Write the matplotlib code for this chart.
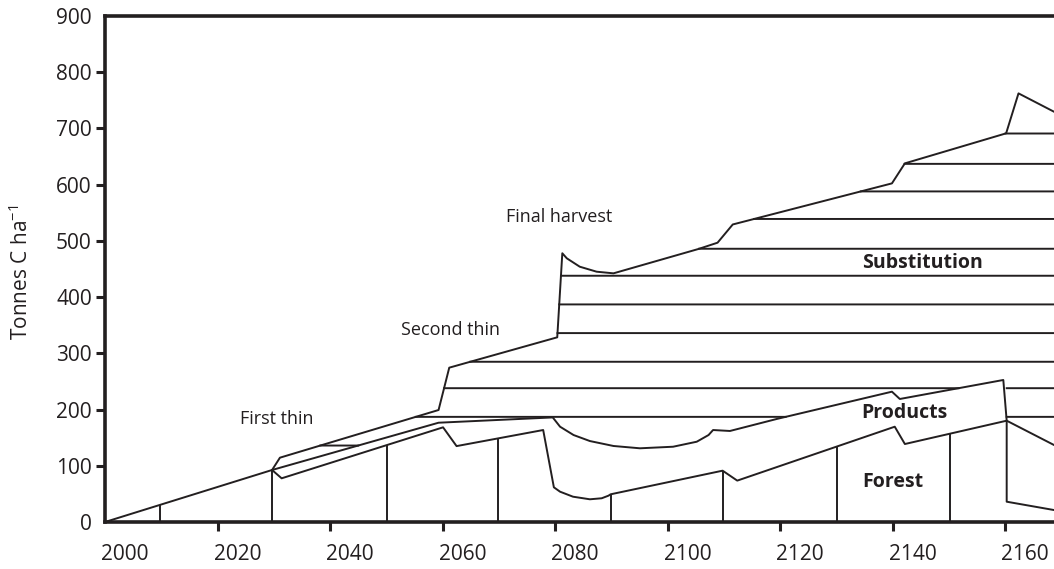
import numpy as np
import matplotlib
matplotlib.use('Agg')
import matplotlib.pyplot as plt
from matplotlib.transforms import ScaledTranslation

plt.rcParams['font.family'] = ['Open Sans', 'DejaVu Sans']
plt.rcParams['mathtext.fontset'] = 'custom'
plt.rcParams['mathtext.rm'] = 'Open Sans'

# forest carbon (lowest line)
forest_years = [2000, 2029.7, 2031.4, 2060.1, 2062.5, 2077.9, 2079.8, 2080.9, 2083.2,
                2086.2, 2088.3, 2089.5, 2089.9, 2109.8, 2112.4, 2140.4, 2142.2, 2160.3,
                2160.3, 2168.7]
forest_vals = [0, 92.5, 77.7, 168.4, 135, 163.6, 61.7, 53.9, 45, 40.4, 42.2, 46.8, 49.3,
               91.3, 73.6, 169.5, 138.7, 180.2, 36.1, 21.3]

# forest + products
products_years = [2029.7, 2059.3, 2079.6, 2080.9, 2083.3, 2086.2, 2090.4, 2095.1, 2101.0,
                  2105.2, 2107.3, 2108.1, 2111.1, 2119.4, 2139.9, 2141.3, 2159.7, 2160.3,
                  2168.7]
products_vals = [92.5, 176.6, 186.0, 169.5, 154.7, 144.0, 135.2, 131.1, 133.9, 142.8,
                 154.7, 163.6, 161.9, 183.2, 231.8, 218.8, 252.6, 180.2, 137.0]

# forest + products + substitution
total_years = [2029.7, 2031.1, 2059.3, 2061.2, 2080.4, 2081.3, 2082.1, 2084.4, 2087.4,
               2090.4, 2105.5, 2108.9, 2111.6, 2139.9, 2142.2, 2160.2, 2162.4, 2168.7]
total_vals = [92.5, 114.4, 199.2, 274.5, 328.5, 478, 469, 454.1, 445.2, 442.3, 485.6,
              496.8, 529.2, 602.3, 637.9, 691.3, 762.4, 729.8]

# cumulative substitution steps (horizontal lines)
sub_levels = [136, 187, 238, 285, 336, 387, 438, 486, 539, 588, 637, 691]
second_harvest = 2160.3

# vertical marks down to the forest line
stand_years = [2009.7, 2029.7, 2050.2, 2069.8, 2089.9, 2109.8, 2130.2, 2150.2]

labels = ['First thin', 'Second thin', 'Final harvest']
label_pos = [(2030.6, 183), (2061.5, 341), (2080.7, 542)]
pools = ['Substitution', 'Products', 'Forest']
pool_pos = [(2145.3, 460), (2142.1, 193), (2140.0, 72)]

fig = plt.figure(figsize=(10.54, 5.69), dpi=100)
ax = fig.add_axes([105 / 1054, 47 / 569, 180 * 5.625 / 1054, 506 / 569])
ax.set_xlim(2000, 2180)
ax.set_ylim(0, 900)

lw = 1.4
c = '#231f20'
ax.plot(forest_years, forest_vals, color=c, lw=lw)
ax.plot(products_years, products_vals, color=c, lw=lw)
ax.plot(total_years, total_vals, color=c, lw=lw)

stand_tops = np.interp(stand_years, forest_years, forest_vals)
ax.vlines(stand_years, 0, stand_tops, color=c, lw=lw)

x = np.linspace(2029.7, 2180, 30000)
tot = np.interp(x, total_years, total_vals)
prod = np.interp(x, products_years, products_vals)
for lev in sub_levels:
    start = x[np.argmax(tot >= lev)]
    covered = (x >= start) & (prod >= lev)
    first_cover = x[np.argmax(covered)] if covered.any() else 9999
    vis = (x >= start) & (prod < lev) & ~((x > first_cover) & (x < second_harvest))
    ax.plot(x, np.where(vis, lev, np.nan), color=c, lw=lw)

for t, (px, py) in zip(labels, label_pos):
    ax.text(px, py, t, ha='center', va='center', fontsize=13, color=c)
for t, (px, py) in zip(pools, pool_pos):
    ax.text(px, py, t, ha='center', va='center', fontsize=14, fontweight='bold', color=c)

for s in ['left', 'bottom', 'top']:
    ax.spines[s].set_linewidth(2.6)
    ax.spines[s].set_color(c)
ax.spines['right'].set_visible(False)

ax.set_xticks(range(2000, 2161, 20))
ax.set_yticks(range(0, 901, 100))
ax.tick_params(axis='both', length=6.5, width=2.2, color=c, labelsize=15, labelcolor=c)
ax.tick_params(axis='x', pad=9)
ax.tick_params(axis='y', pad=3)
xt = ax.xaxis.get_major_ticks()
xt[0].tick1line.set_visible(False)
yt = ax.yaxis.get_major_ticks()
yt[0].tick1line.set_visible(False)
yt[-1].tick1line.set_visible(False)
shift = ScaledTranslation(0.2, 0, fig.dpi_scale_trans)
for lab in ax.get_xticklabels():
    lab.set_transform(lab.get_transform() + shift)

ax.set_ylabel('Tonnes C ha$^{-1}$', fontsize=15, color=c)
ax.yaxis.set_label_coords(-0.071, 0.494)

fig.savefig('out.png', dpi=100)
